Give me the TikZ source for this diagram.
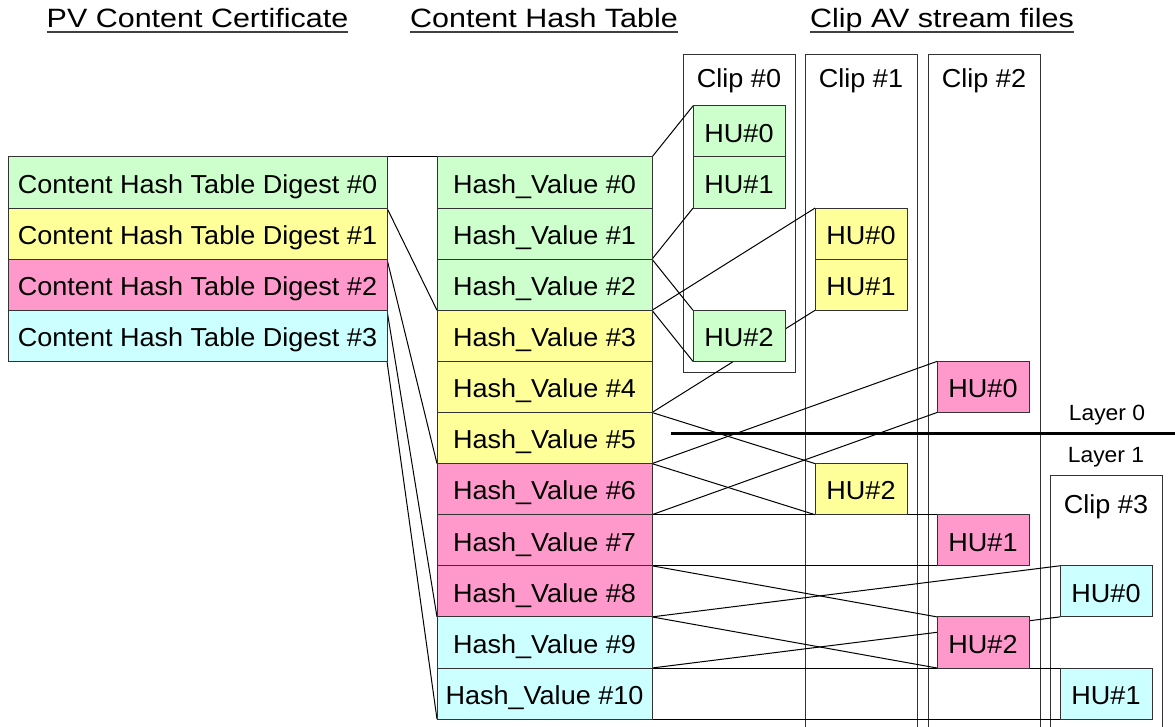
\documentclass[tikz,border=0pt]{standalone}
\usepackage{fontspec}
\setmainfont{Liberation Sans}[FakeStretch=1.04]
\newfontfamily\hdfont{Liberation Sans}[FakeStretch=1.15]
\pgfdeclarelayer{bg}
\pgfsetlayers{bg,main}
\definecolor{cgreen}{HTML}{CCFFCC}
\definecolor{cyellow}{HTML}{FFFF99}
\definecolor{cpink}{HTML}{FF99CC}
\definecolor{ccyan}{HTML}{CCFFFF}
\definecolor{bordergray}{HTML}{333333}
\begin{document}
\begin{tikzpicture}[x=1pt,y=-1pt,
  cell/.style={draw=bordergray, line width=1pt, minimum height=51.1pt, inner sep=0pt, outer sep=0pt,
    text height=21.6pt, text depth=0pt, font=\fontsize{26}{28}\selectfont},
  dgbox/.style={cell, minimum width=379pt},
  hvbox/.style={cell, minimum width=215pt},
  hubox/.style={cell, minimum width=92pt},
  frame/.style={draw=bordergray, line width=1pt},
  conn/.style={draw=black, line width=1pt},
  head/.style={inner sep=0pt, anchor=base, font=\hdfont\fontsize{26.5}{28}\selectfont},
  cliplabel/.style={inner sep=0pt, anchor=base, font=\fontsize{26}{28}\selectfont},
  layerlabel/.style={inner sep=0pt, anchor=base, font=\fontsize{22}{25}\selectfont}
]
\useasboundingbox (0,0) rectangle (1175,727);

% headers
\node[head] (t1) at (197.5,28) {PV Content Certificate};
\node[head] (t2) at (544,28) {Content Hash Table};
\node[head] (t3) at (942,28) {Clip AV stream files};
\foreach \t in {t1,t2,t3}{
  \draw[line width=2pt, draw=black!75] ([yshift=-4pt]\t.base west) -- ([yshift=-4pt]\t.base east);
}

% digest boxes
\node[dgbox, fill=cgreen]  (d0) at (197.5,182.55) {Content Hash Table Digest \#0};
\node[dgbox, fill=cyellow] (d1) at (197.5,233.65) {Content Hash Table Digest \#1};
\node[dgbox, fill=cpink]   (d2) at (197.5,284.75) {Content Hash Table Digest \#2};
\node[dgbox, fill=ccyan]   (d3) at (197.5,335.85) {Content Hash Table Digest \#3};

% hash values
\node[hvbox, fill=cgreen]  (h0) at (544.5,182.55) {Hash\_Value \#0};
\node[hvbox, fill=cgreen]  (h1) at (544.5,233.65) {Hash\_Value \#1};
\node[hvbox, fill=cgreen]  (h2) at (544.5,284.75) {Hash\_Value \#2};
\node[hvbox, fill=cyellow] (h3) at (544.5,335.85) {Hash\_Value \#3};
\node[hvbox, fill=cyellow] (h4) at (544.5,386.95) {Hash\_Value \#4};
\node[hvbox, fill=cyellow] (h5) at (544.5,438.05) {Hash\_Value \#5};
\node[hvbox, fill=cpink]   (h6) at (544.5,489.15) {Hash\_Value \#6};
\node[hvbox, fill=cpink]   (h7) at (544.5,540.25) {Hash\_Value \#7};
\node[hvbox, fill=cpink]   (h8) at (544.5,591.35) {Hash\_Value \#8};
\node[hvbox, fill=ccyan]   (h9) at (544.5,642.45) {Hash\_Value \#9};
\node[hvbox, fill=ccyan]   (h10) at (544.5,693.55) {Hash\_Value \#10};

% clip labels
\node[cliplabel] (cl0) at (739,88) {Clip \#0};
\node[cliplabel] (cl1) at (861,88) {Clip \#1};
\node[cliplabel] (cl2) at (984,88) {Clip \#2};
\node[cliplabel] (cl3) at (1106,513) {Clip \#3};

% HU boxes
\node[hubox, fill=cgreen] (c0u0) at (739,131.45) {HU\#0};
\node[hubox, fill=cgreen] (c0u1) at (739,182.55) {HU\#1};
\node[hubox, fill=cgreen] (c0u2) at (739,335.85) {HU\#2};
\node[hubox, fill=cyellow] (c1u0) at (861,233.65) {HU\#0};
\node[hubox, fill=cyellow] (c1u1) at (861,284.75) {HU\#1};
\node[hubox, fill=cyellow] (c1u2) at (861,489.15) {HU\#2};
\node[hubox, fill=cpink] (c2u0) at (983,386.95) {HU\#0};
\node[hubox, fill=cpink] (c2u1) at (983,540.25) {HU\#1};
\node[hubox, fill=cpink] (c2u2) at (983,642.45) {HU\#2};
\node[hubox, fill=ccyan] (c3u0) at (1106,591.35) {HU\#0};
\node[hubox, fill=ccyan] (c3u1) at (1106,693.55) {HU\#1};

% layer labels
\node[layerlabel] (l0) at (1107,420) {Layer 0};
\node[layerlabel] (l1) at (1106,462) {Layer 1};
\coordinate (ls) at (671,433);
\coordinate (le) at (1175,433);
\draw[line width=3pt] (ls) -- (le);

\begin{pgfonlayer}{bg}
  % clip frames
  \draw[frame] (683,55) rectangle (795,372);
  \draw[frame] (805,727) -- (805,55) -- (917,55) -- (917,727);
  \draw[frame] (928,727) -- (928,55) -- (1040,55) -- (1040,727);
  \draw[frame] (1050,727) -- (1050,475) -- (1162,475) -- (1162,727);
  % digest -> hash
  \draw[conn] (d0.north east) -- (h0.north west);
  \draw[conn] (d0.south east) -- (h2.south west);
  \draw[conn] (d1.south east) -- (h5.south west);
  \draw[conn] (d2.south east) -- (h8.south west);
  \draw[conn] (d3.south east) -- (h10.south west);
  % hash -> HU
  \draw[conn] (h0.north east) -- (c0u0.north west);
  \draw[conn] (h1.south east) -- (c0u1.south west);
  \draw[conn] (h2.north east) -- (c0u2.north west);
  \draw[conn] (h2.south east) -- (c0u2.south west);
  \draw[conn] (h3.north east) -- (c1u0.north west);
  \draw[conn] (h4.south east) -- (c1u1.south west);
  \draw[conn] (h5.north east) -- (c1u2.north west);
  \draw[conn] (h5.south east) -- (c1u2.south west);
  \draw[conn] (h6.north east) -- (c2u0.north west);
  \draw[conn] (h6.south east) -- (c2u0.south west);
  \draw[conn] (h7.north east) -- (c2u1.north west);
  \draw[conn] (h7.south east) -- (c2u1.south west);
  \draw[conn] (h8.north east) -- (c2u2.north west);
  \draw[conn] (h8.south east) -- (c2u2.south west);
  \draw[conn] (h9.north east) -- (c3u0.north west);
  \draw[conn] (h9.south east) -- (c3u0.south west);
  \draw[conn] (h10.north east) -- (c3u1.north west);
  \draw[conn] (h10.south east) -- (c3u1.south west);
\end{pgfonlayer}
\end{tikzpicture}
\end{document}
